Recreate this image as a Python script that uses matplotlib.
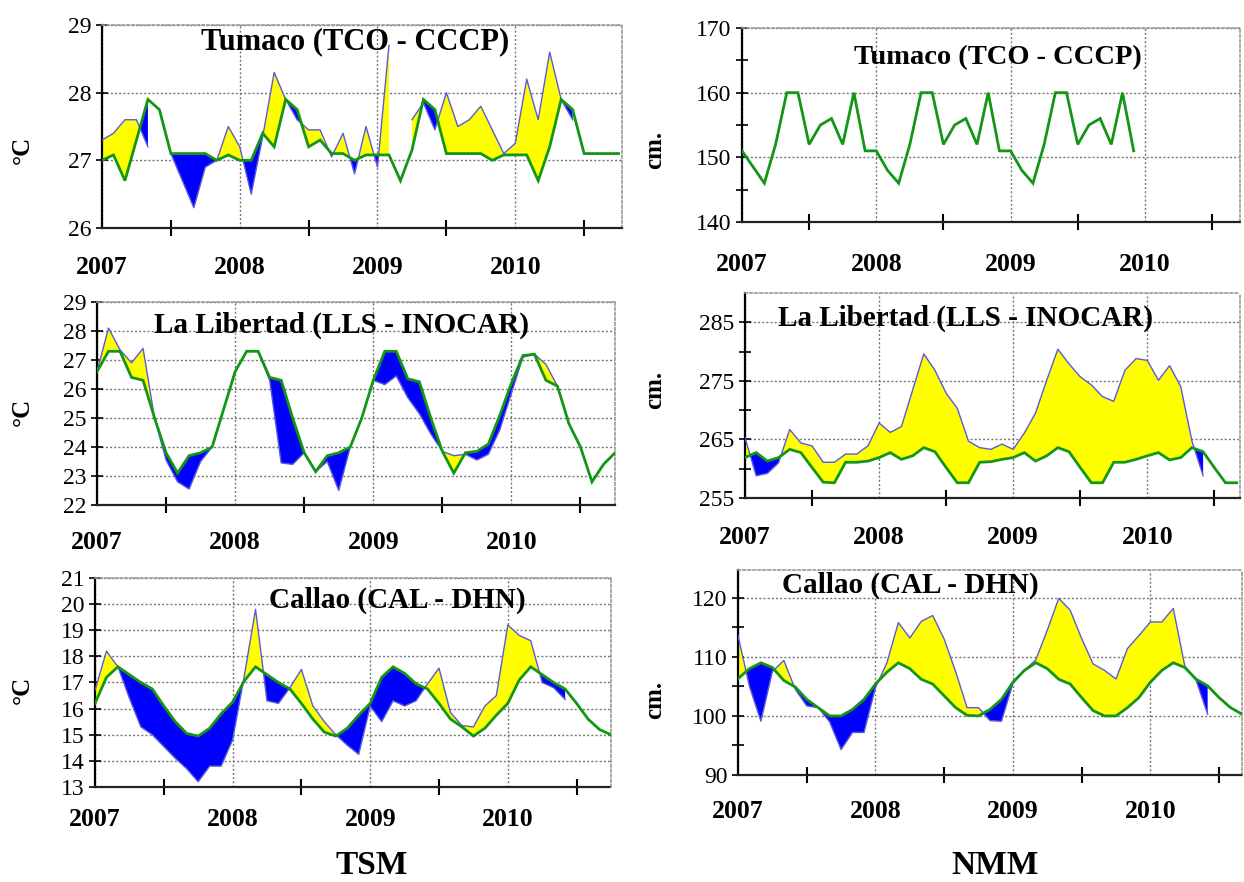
import numpy as np
import matplotlib
matplotlib.use("Agg")
import matplotlib.pyplot as plt

plt.rcParams['font.family'] = ['Liberation Serif', 'DejaVu Serif']

nan = np.nan
year_labels = ["2007", "2008", "2009", "2010"]

# ---------------- data (monthly, starting Jan 2007) ----------------
tco_tsm_clim = [27.0, 27.08, 26.7, 27.3, 27.9, 27.75, 27.1, 27.1, 27.1, 27.1, 27.0, 27.08,
                27.0, 27.0, 27.4, 27.2, 27.9, 27.75, 27.2, 27.3, 27.1, 27.1, 27.0, 27.08,
                27.08, 27.08, 26.7, 27.15, 27.9, 27.75, 27.1, 27.1, 27.1, 27.1, 27.0, 27.08,
                27.08, 27.08, 26.7, 27.2, 27.9, 27.75, 27.1, 27.1, 27.1, 27.1]
tco_tsm_obs = [27.3, 27.4, 27.6, 27.6, 27.2, nan, 27.1, 26.7, 26.3, 26.9, 27.0, 27.5,
               27.2, 26.5, 27.35, 28.3, 27.9, 27.6, 27.45, 27.45, 27.05, 27.4, 26.8, 27.5,
               26.9, 28.7, nan, 27.6, 27.85, 27.45, 28.0, 27.5, 27.6, 27.8, 27.45, 27.1,
               27.25, 28.2, 27.6, 28.6, 27.9, 27.6, nan, nan, nan, nan]

tco_nmm_clim = [151, 148.5, 146, 152, 160, 160, 152, 155, 156, 152, 160, 151,
                151, 148, 146, 152, 160, 160, 152, 155, 156, 152, 160, 151,
                151, 148, 146, 152, 160, 160, 152, 155, 156, 152, 160, 151]

lls_tsm_clim = [26.6, 27.3, 27.3, 26.4, 26.3, 25.0, 23.8, 23.1, 23.7, 23.8, 24.0, 25.3,
                26.6, 27.3, 27.3, 26.4, 26.3, 25.0, 23.8, 23.15, 23.7, 23.8, 24.0, 25.0,
                26.3, 27.3, 27.3, 26.35, 26.25, 25.0, 23.85, 23.1, 23.8, 23.85, 24.1, 25.1,
                26.2, 27.15, 27.2, 26.3, 26.1, 24.8, 24.0, 22.8, 23.4, 23.8]
lls_tsm_obs = [26.6, 28.1, 27.35, 26.9, 27.4, 25.0, 23.55, 22.8, 22.55, 23.5, 24.0, 25.3,
               26.6, 27.3, 27.3, 26.3, 23.45, 23.4, 23.8, 23.15, 23.5, 22.5, 24.0, 25.0,
               26.3, 26.15, 26.45, 25.7, 25.15, 24.45, 23.85, 23.7, 23.75, 23.55, 23.75, 24.6,
               25.85, 27.1, 27.2, 26.85, 26.1, nan, nan, nan, nan, nan]

lls_nmm_clim = [261.9, 262.75, 261.3, 261.9, 263.3, 262.75, 260.2, 257.7, 257.6, 261.1, 261.1, 261.3,
                261.9, 262.75, 261.6, 262.2, 263.6, 262.9, 260.2, 257.6, 257.6, 261.1, 261.2, 261.6,
                261.9, 262.75, 261.3, 262.2, 263.6, 262.9, 260.2, 257.6, 257.6, 261.1, 261.1, 261.6,
                262.2, 262.75, 261.5, 261.9, 263.6, 262.9, 260.2, 257.6, 257.6]
lls_nmm_obs = [265.3, 258.8, 259.2, 261.0, 266.7, 264.4, 263.9, 261.1, 261.1, 262.5, 262.5, 263.9,
               267.8, 266.2, 267.2, 273.4, 279.6, 276.8, 272.9, 270.3, 264.7, 263.6, 263.3, 264.2,
               263.3, 266.1, 269.5, 275.1, 280.4, 277.9, 275.7, 274.3, 272.3, 271.5, 276.8, 278.8,
               278.5, 275.1, 277.6, 274.0, 264.7, 258.8, nan, nan, nan]

cal_tsm_clim = [16.2, 17.2, 17.6, 17.3, 17.0, 16.75, 16.1, 15.5, 15.05, 14.95, 15.25, 15.8,
                16.25, 17.05, 17.6, 17.3, 17.0, 16.75, 16.2, 15.6, 15.1, 14.95, 15.25, 15.75,
                16.2, 17.2, 17.6, 17.35, 16.95, 16.75, 16.2, 15.6, 15.3, 14.95, 15.25, 15.75,
                16.2, 17.1, 17.6, 17.3, 17.0, 16.75, 16.2, 15.6, 15.2, 15.0]
cal_tsm_obs = [16.7, 18.2, 17.6, 16.4, 15.3, 15.0, 14.55, 14.1, 13.7, 13.2, 13.8, 13.8,
               14.8, 17.2, 19.8, 16.3, 16.2, 16.8, 17.5, 16.1, 15.5, 15.0, 14.6, 14.25,
               16.1, 15.5, 16.3, 16.1, 16.3, 16.95, 17.55, 15.85, 15.35, 15.3, 16.1, 16.5,
               19.2, 18.8, 18.6, 17.0, 16.8, 16.35, nan, nan, nan, nan]

cal_nmm_clim = [106.3, 108.0, 109.0, 108.2, 106.0, 104.9, 102.8, 101.4, 100.0, 100.0, 101.1, 102.8,
                105.4, 107.4, 109.0, 108.0, 106.2, 105.4, 103.4, 101.4, 100.1, 100.0, 101.1, 102.8,
                105.7, 107.7, 109.0, 108.0, 106.2, 105.4, 103.1, 100.9, 100.0, 100.0, 101.4, 103.1,
                105.7, 107.7, 109.0, 108.2, 106.2, 105.1, 103.1, 101.4, 100.3]
cal_nmm_obs = [113.6, 105.0, 99.1, 107.5, 109.4, 104.5, 101.7, 101.4, 99.0, 94.3, 97.2, 97.2,
               104.8, 109.0, 115.8, 113.2, 116.0, 117.0, 113.0, 107.5, 101.4, 101.4, 99.2, 99.1,
               105.5, 107.7, 109.5, 114.5, 119.9, 117.9, 113.1, 108.8, 107.7, 106.25, 111.4, 113.6,
               115.9, 115.9, 118.2, 108.5, 106.0, 100.3, nan, nan, nan]

# ---------------- style ----------------
YELLOW = '#FFFF00'
BLUE = '#0000FF'
GREEN = '#139613'
OBS = '#5a5ad8'
W, H = 1244, 882

fig = plt.figure(figsize=(W / 100, H / 100), dpi=100)


def rect(x0, y0, x1, y1):
    return [x0 / W, 1 - y1 / H, (x1 - x0) / W, (y1 - y0) / H]


def panel(box, clim, obs, ylim, yticks, yminor, title, title_xy, title_size, xmax, label_pad):
    ax = fig.add_axes(rect(*box))
    c = np.array(clim, float)
    x = np.arange(len(c))
    if obs is not None:
        o = np.array(obs, float)
        with np.errstate(invalid='ignore'):
            up = o >= c
            dn = o < c
        ax.fill_between(x, o, c, where=up, interpolate=True, color=YELLOW, lw=0, zorder=2)
        ax.fill_between(x, o, c, where=dn, interpolate=True, color=BLUE, lw=0, zorder=2)
        ax.plot(x, o, color=OBS, lw=1.0, zorder=3)
    ax.plot(x, c, color=GREEN, lw=2.0, zorder=4, solid_joinstyle='miter')

    ax.set_xlim(0, xmax)
    ax.set_ylim(*ylim)
    # year labels at year starts, tick marks at mid-year
    ax.set_xticks([0, 12, 24, 36])
    ax.set_xticklabels(year_labels, fontsize=18.5, fontweight='bold')
    ax.set_xticks([6, 18, 30, 42], minor=True)
    ax.tick_params(axis='x', which='major', length=0, pad=label_pad)
    ax.tick_params(axis='x', which='minor', length=11, width=1.5, direction='inout', color='black')
    ax.set_yticks(yticks)
    ax.set_yticklabels([str(v) for v in yticks], fontsize=17)
    if yminor:
        ax.set_yticks(yminor, minor=True)
    ax.tick_params(axis='y', which='both', length=9, width=1.2, direction='inout', pad=3)

    ax.grid(True, which='major', axis='both', color='#777777', lw=1.0, ls=(0, (1.5, 1.5)), zorder=1)
    ax.set_axisbelow(True)
    ax.spines['left'].set_color('black')
    ax.spines['left'].set_linewidth(1.6)
    ax.spines['bottom'].set_color('#222222')
    ax.spines['bottom'].set_linewidth(1.6)
    ax.spines['bottom'].set_linestyle((0, (1.5, 1.0)))
    for s in ('top', 'right'):
        ax.spines[s].set_color('#999999')
        ax.spines[s].set_linewidth(1.2)
        ax.spines[s].set_linestyle((0, (1.5, 1.5)))
    ax.set_facecolor('white')

    fig.text(title_xy[0] / W, 1 - title_xy[1] / H, title, fontsize=title_size, fontweight='bold',
             ha='center', va='center', zorder=10)
    return ax


panel((102, 25, 622, 228), tco_tsm_clim, tco_tsm_obs, (26, 29), [26, 27, 28, 29], None,
      'Tumaco (TCO - CCCP)', (355, 42), 22, 45.3, 20)
panel((742, 28, 1240, 222), tco_nmm_clim, None, (140, 170), [140, 150, 160, 170], [145, 155, 165],
      'Tumaco (TCO - CCCP)', (998, 58), 20.5, 44.5, 22)
panel((97, 302, 615, 505), lls_tsm_clim, lls_tsm_obs, (22, 29), list(range(22, 30)), None,
      'La Libertad (LLS - INOCAR)', (341, 325), 21, 45.0, 19)
panel((745, 293, 1240, 498), lls_nmm_clim, lls_nmm_obs, (255, 290), [255, 265, 275, 285], [260, 270, 280],
      'La Libertad (LLS - INOCAR)', (966, 318), 21, 44.3, 20)
panel((95, 578, 611, 787), cal_tsm_clim, cal_tsm_obs, (13, 21), list(range(13, 22)), None,
      'Callao (CAL - DHN)', (397, 600), 21, 45.0, 15)
panel((738, 570, 1242, 775), cal_nmm_clim, cal_nmm_obs, (90, 124.7), [90, 100, 110, 120], [95, 105, 115],
      'Callao (CAL - DHN)', (910, 585), 21, 44.0, 18)

# axis unit labels
for (xp, yp, s) in [(22, 150, '°C'), (22, 412, '°C'), (22, 690, '°C'),
                    (655, 150, 'cm.'), (655, 390, 'cm.'), (655, 700, 'cm.')]:
    fig.text(xp / W, 1 - yp / H, s, rotation=90, fontsize=18, fontweight='bold',
             ha='center', va='center')

fig.text(372 / W, 1 - 866 / H, 'TSM', fontsize=24, fontweight='bold', ha='center', va='center')
fig.text(995 / W, 1 - 866 / H, 'NMM', fontsize=24, fontweight='bold', ha='center', va='center')

fig.savefig('out.png', dpi=100, facecolor='white')
